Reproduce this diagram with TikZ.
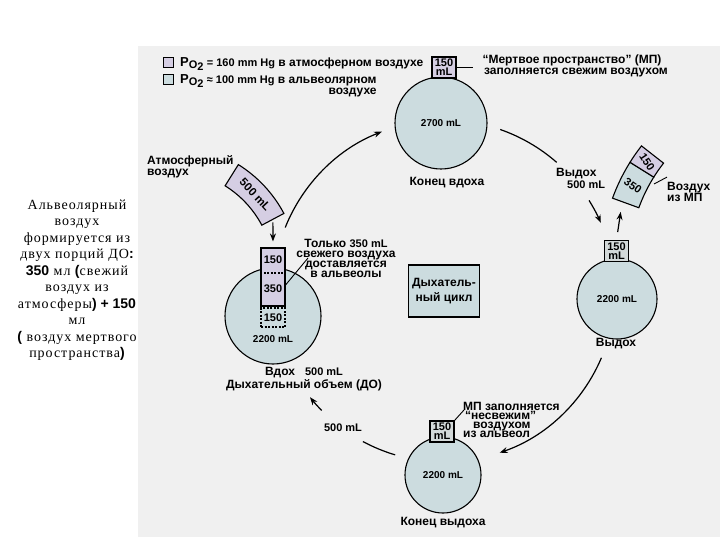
\documentclass[tikz,border=0pt]{standalone}
\usepackage{fontspec}
\setmainfont{Liberation Serif}
\setsansfont{Liberation Sans}
\newfontfamily\notefont[LetterSpace=7]{Liberation Serif}
\usetikzlibrary{positioning,arrows.meta,calc}
\definecolor{panelgray}{HTML}{F0F0F0}
\definecolor{alvblue}{HTML}{CCDCDF}
\definecolor{atmlilac}{HTML}{D5CEE3}
\definecolor{dsgray}{HTML}{D3D9D9}
\newcommand{\heavy}[1]{{\sffamily\bfseries #1}}
\newcommand{\lat}[1]{{\fontsize{11}{11}\selectfont #1}}
\newcommand{\pox}{{\fontsize{13}{13}\selectfont P}\raisebox{-2.5pt}{\lat{O}\raisebox{-1.5pt}{\lat{2}}}}

\begin{document}
\begin{tikzpicture}[x=1pt, y=-1pt,
  every node/.style={font=\sffamily\bfseries\fontsize{12}{11}\selectfont, inner sep=0pt},
  lung/.style={shape=circle, draw=black, fill=alvblue, line width=1.1pt,
    font=\sffamily\bfseries\fontsize{10}{10}\selectfont},
  dead/.style={draw=black, fill=dsgray, line width=1.1pt, minimum width=24pt, minimum height=21pt,
    align=center, font=\sffamily\bfseries\fontsize{11}{9}\selectfont},
  flow/.style={line width=1.2pt, -{Stealth[length=8pt,width=6pt]}},
  loopline/.style={line width=1.2pt},
  ptr/.style={line width=0.9pt}
]
\useasboundingbox (0,0) rectangle (720,540);
\fill[panelgray] (138,46) rectangle (720,537);

% side note
\node[font=\notefont\fontsize{14}{16.5}\selectfont, align=center] (note) at (77,280)
  {Альвеолярный\\воздух\\формируется из\\двух порций ДО\heavy{:}\\
   \heavy{350} мл \heavy{(}свежий\\воздух из\\атмосферы\heavy{) + 150}\\мл\\
   \heavy{(} воздух мертвого\\пространства\heavy{)}};

% legend
\node[draw=black, fill=atmlilac, line width=0.8pt, minimum size=10pt] (keyatm) at (168,62) {};
\node[draw=black, fill=alvblue, line width=0.8pt, minimum size=10pt] (keyalv) at (168,79) {};
\node[anchor=west] (keyatmtxt) at (180,64) {\pox{} \lat{= 160 mm Hg} в атмосферном воздухе};
\node[anchor=north west, align=right] (keyalvtxt) at (180,74) {\pox{} \lat{≈ 100 mm Hg} в альвеолярном\\воздухе};

% end of inspiration
\node[lung, minimum size=92pt] (endin) at (441,123) {2700 mL};
\node[dead, fill=atmlilac] (dsin) at (444,67.5) {150\\mL};
\node (endinlbl) at (447,183) {Конец вдоха};
\node[align=center] (dstxt) at (572,66) {“Мертвое пространство” (МП)\\\hspace{8pt}заполняется свежим воздухом};
\draw[ptr, shorten >=3pt] (dsin.east) -- (dsin.east -| dstxt.west);

% expiration
\node[lung, minimum size=80pt] (outmid) at (617,299) {2200 mL};
\node[dead] (dsout) at (616.5,251) {150\\mL};
\node (outlbl) at (616,344) {Выдох};
\node[anchor=west, align=left, font=\sffamily\bfseries\fontsize{12}{12}\selectfont] (outvol) at (556,178) {Выдох\\\hspace{11pt}\lat{500 mL}};

% end of expiration
\node[lung, minimum size=76pt] (endout) at (443,475) {2200 mL};
\node[dead] (dsend) at (442,431.5) {150\\mL};
\node (endoutlbl) at (443,523) {Конец выдоха};
\node[anchor=north west, align=left, font=\sffamily\bfseries\fontsize{12}{9}\selectfont] (stale) at (463,402)
  {МП заполняется\\\hspace{2pt}“несвежим”\\\hspace{10pt}воздухом\\из альвеол};
\coordinate (staletip) at (464,410);
\draw[ptr] (dsend.north east) -- (staletip);

% inspiration
\node[lung, minimum size=96pt] (inmid) at (273,316) {};
\node[font=\sffamily\bfseries\fontsize{10}{10}\selectfont] (inmidvol) at (273,339) {2200 mL};
\node[draw=black, fill=atmlilac, line width=1.1pt, minimum width=24pt, minimum height=58pt] (tidal) at (273,277) {};
\node[font=\sffamily\bfseries\fontsize{11}{11}\selectfont] (tidaltop) at (273,260) {150};
\node[font=\sffamily\bfseries\fontsize{11}{11}\selectfont] (tidalfresh) at (273,289) {350};
\draw[line width=1.1pt, dash pattern=on 2pt off 1.5pt] ([yshift=4pt]tidal.west) -- ([yshift=4pt]tidal.east);
\node[draw=black, line width=1.1pt, dash pattern=on 2pt off 1.5pt, minimum width=24pt, minimum height=19pt,
  font=\sffamily\bfseries\fontsize{11}{11}\selectfont] (deadfill) at (273,317.5) {150};
\node[align=center, font=\sffamily\bfseries\fontsize{12}{10}\selectfont] (onlyfresh) at (346,258)
  {Только \lat{350 mL}\\свежего воздуха\\доставляется\\в альвеолы};
\coordinate (freshtip) at (308,258);
\draw[ptr] ([yshift=-8pt]tidal.east) -- (freshtip);
\node[align=center, font=\sffamily\bfseries\fontsize{12}{10.5}\selectfont] (inlbl) at (304,379)
  {Вдох \ \ \lat{500 mL}\\Дыхательный объем (ДО)};

% atmospheric portion
\node[anchor=north west, align=left] (atmlbl) at (147,155) {Атмосферный\\воздух};
\coordinate (atmc) at (170,274);
\draw[fill=atmlilac, line width=1.1pt] (atmc) ++(-58:104) arc[start angle=-58, end angle=-28, radius=104]
  -- ++(-28:25) arc[start angle=-28, end angle=-58, radius=129] -- cycle;
\node[rotate=-47, font=\sffamily\bfseries\fontsize{11.5}{11.5}\selectfont] (atmvol) at ($(atmc)+(-43:116.5)$) {500 mL};
\coordinate (atmout) at ($(atmc)+(-28:116.5)$);
\draw[flow, shorten <=3pt, shorten >=6pt] (atmout) -- (tidal.north);

% air leaving
\coordinate (mixc) at (792,263.5);
\draw[fill=alvblue, line width=1.1pt] (mixc) ++(-160:163) arc[start angle=-160, end angle=-148, radius=163]
  -- ++(-148:28) arc[start angle=-148, end angle=-160, radius=191] -- cycle;
\draw[fill=atmlilac, line width=1.1pt] (mixc) ++(-148:163) arc[start angle=-148, end angle=-142, radius=163]
  -- ++(-142:28) arc[start angle=-142, end angle=-148, radius=191] -- cycle;
\node[rotate=-35, font=\sffamily\bfseries\fontsize{11}{11}\selectfont] (mixold) at ($(mixc)+(-154:177)$) {350};
\node[rotate=-57, font=\sffamily\bfseries\fontsize{11}{11}\selectfont] (mixfresh) at ($(mixc)+(-145:177)$) {150};
\coordinate (mixin) at (622,203);
\draw[flow, shorten <=8pt, shorten >=9pt] (dsout.north) -- (mixin);
\node[anchor=west, align=left] (mixlbl) at (667,192) {Воздух\\из МП};
\coordinate (mixedge) at (654,184);
\draw[ptr] (mixedge) -- ([yshift=5pt]mixlbl.north west);

% respiratory cycle
\node[draw=black, fill=alvblue, line width=1.1pt, minimum width=71pt, minimum height=52pt, align=center,
  font=\sffamily\bfseries\fontsize{12}{15}\selectfont] (resp) at (444,291) {Дыхатель-\\ный цикл};
\draw[loopline, flow] (resp.center) ++(201.8:171) arc[start angle=201.8, end angle=248.7, radius=171];
\draw[loopline] (resp.center) ++(289.2:171) arc[start angle=289.2, end angle=311.2, radius=171];
\draw[loopline, flow] (resp.center) ++(328:171) arc[start angle=328, end angle=336.5, radius=171];
\draw[loopline, flow] (resp.center) ++(23:171) arc[start angle=23, end angle=71, radius=171];
\draw[loopline] (resp.center) ++(106.6:171) arc[start angle=106.6, end angle=118.3, radius=171];
\draw[loopline, flow] (resp.center) ++(135.7:171) arc[start angle=135.7, end angle=141.6, radius=171];
\node[font=\sffamily\bfseries\fontsize{11}{11}\selectfont] (backvol) at (343,428) {500 mL};
\end{tikzpicture}
\end{document}
